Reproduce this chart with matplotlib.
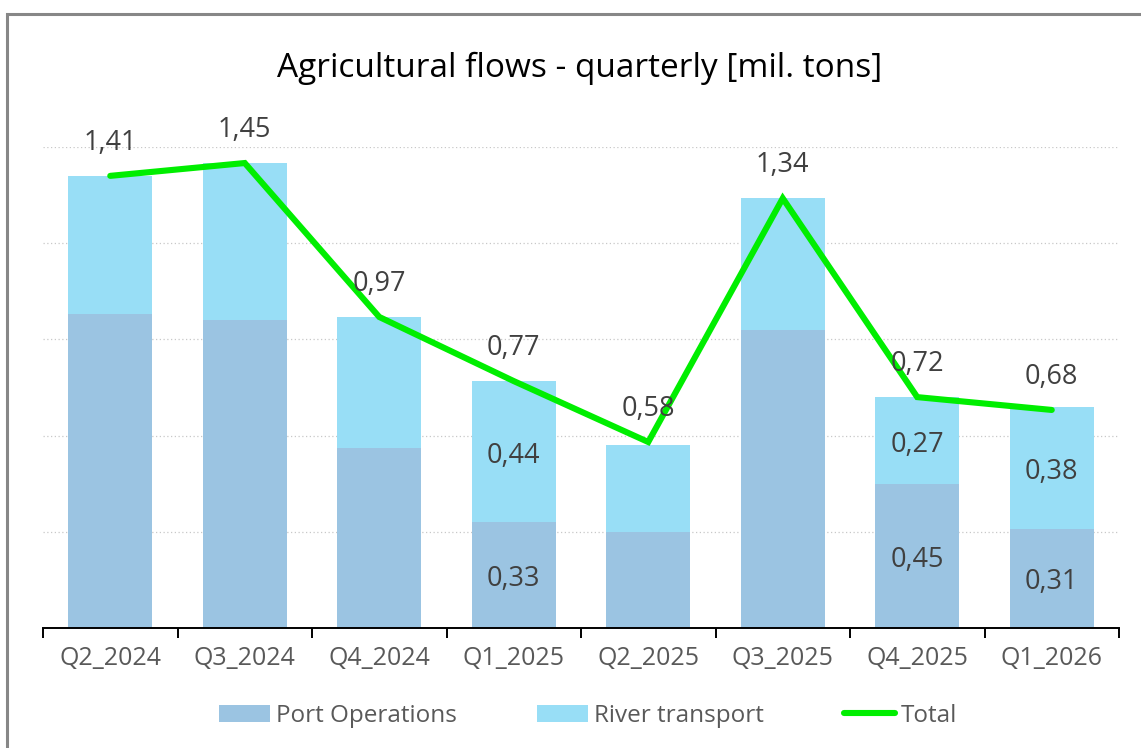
import matplotlib
matplotlib.use("Agg")
import matplotlib.pyplot as plt
from matplotlib.patches import Rectangle
import numpy as np

quarters = ["Q2_2024", "Q3_2024", "Q4_2024", "Q1_2025", "Q2_2025", "Q3_2025", "Q4_2025", "Q1_2026"]
port_ops = [0.98, 0.96, 0.56, 0.33, 0.30, 0.93, 0.45, 0.31]
river = [0.43, 0.49, 0.41, 0.44, 0.27, 0.41, 0.27, 0.38]
total = [1.41, 1.45, 0.97, 0.77, 0.58, 1.34, 0.72, 0.68]
# segment labels shown only on some bars in the original
port_labels = [None, None, None, 0.33, None, None, 0.45, 0.31]
river_labels = [None, None, None, 0.44, None, None, 0.27, 0.38]

PORT_C = "#9BC4E2"
RIVER_C = "#98DEF6"
GREEN = "#00EE00"
TXT = "#404040"

plt.rcParams["font.family"] = ["Open Sans", "DejaVu Sans"]

W, H = 1141, 748
fig = plt.figure(figsize=(W / 100, H / 100), dpi=100)

# outer chart border (only top/left visible in the reference)
fig.patches.append(Rectangle((7 / W, -0.1), 1.2, 1.1 - 14 / H, transform=fig.transFigure,
                             fill=False, edgecolor="#878787", linewidth=2.2))

ax = fig.add_axes([43 / W, 1 - 628 / H, (1119 - 43) / W, (628 - 147) / H])

x = np.arange(len(quarters))
b1 = ax.bar(x, port_ops, width=0.625, color=PORT_C, label="Port Operations", zorder=2)
b2 = ax.bar(x, river, width=0.625, bottom=port_ops, color=RIVER_C, label="River transport", zorder=2)
ln, = ax.plot(x, total, color=GREEN, linewidth=4.4, solid_capstyle="round",
              solid_joinstyle="miter", label="Total", zorder=3)

def fmt(v):
    return f"{v:.2f}".replace(".", ",")

for i, v in enumerate(total):
    ax.annotate(fmt(v), (x[i], v), xytext=(0, 24), textcoords="offset points",
                ha="center", va="center", fontsize=19.5, color=TXT, zorder=4)

# segment labels sit a few px below the exact middle, like the original
for i in range(len(quarters)):
    if port_labels[i] is not None:
        ax.annotate(fmt(port_labels[i]), (x[i], port_ops[i] / 2), xytext=(0, -3),
                    textcoords="offset points", ha="center", va="center",
                    fontsize=19.5, color=TXT, zorder=4)
    if river_labels[i] is not None:
        ax.annotate(fmt(river_labels[i]), (x[i], port_ops[i] + river[i] / 2), xytext=(0, -3),
                    textcoords="offset points", ha="center", va="center",
                    fontsize=19.5, color=TXT, zorder=4)

ax.set_xlim(-0.5, len(quarters) - 0.5)
ax.set_ylim(0, 1.5)
ax.set_yticks([0.3, 0.6, 0.9, 1.2, 1.5])
ax.yaxis.grid(True, linestyle=(0, (1, 2)), color="#C8C8C8", linewidth=0.9, zorder=0)
ax.tick_params(axis="y", left=False, labelleft=False)

ax.set_xticks(x)
ax.set_xticklabels(quarters, fontsize=18, color="#595959")
ax.set_xticks(np.arange(len(quarters) + 1) - 0.5, minor=True)
ax.tick_params(axis="x", which="major", length=0, pad=13)
ax.tick_params(axis="x", which="minor", length=7, width=1.4, color="black")

for s in ["top", "right", "left"]:
    ax.spines[s].set_visible(False)
ax.spines["bottom"].set_linewidth(1.4)
ax.spines["bottom"].set_color("black")

fig.text(580 / W, 1 - 68 / H, "Agricultural flows - quarterly [mil. tons]",
         ha="center", va="center", fontsize=24, color="black")

fig.legend([b1, b2, ln], ["Port Operations", "River transport", "Total"],
           loc="center", bbox_to_anchor=(588 / W, 1 - 716 / H), ncol=3, frameon=False,
           fontsize=17.5, handlelength=2.1, handleheight=0.7, handletextpad=0.25,
           columnspacing=3.3, labelcolor="#595959")

fig.savefig("out.png", dpi=100)
